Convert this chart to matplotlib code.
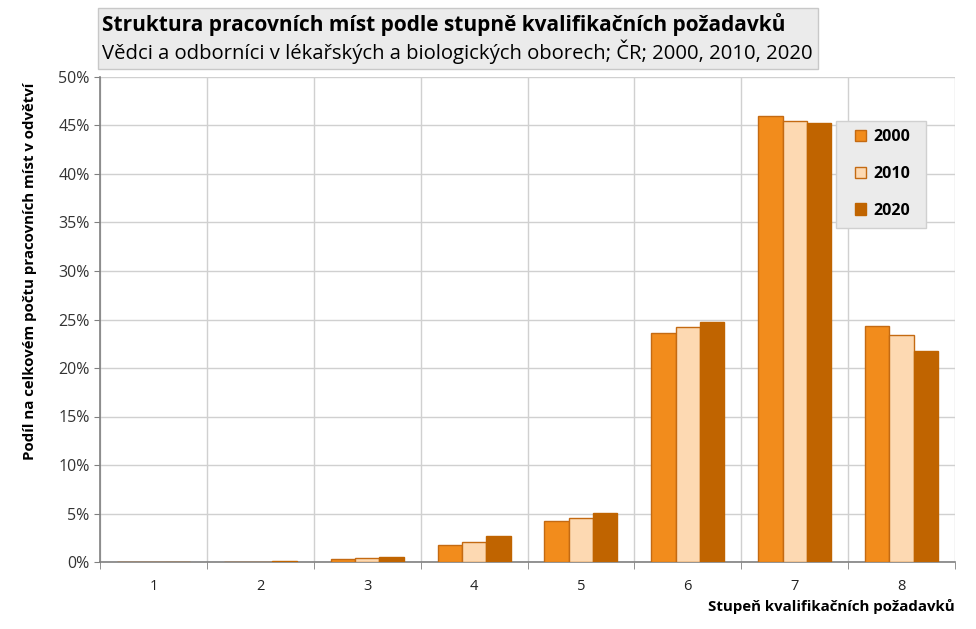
import matplotlib
matplotlib.use("Agg")
import matplotlib.pyplot as plt
from matplotlib.patches import Rectangle
from matplotlib.ticker import FixedLocator, PercentFormatter
import numpy as np

plt.rcParams["font.family"] = ["Open Sans", "DejaVu Sans"]

categories = ["1", "2", "3", "4", "5", "6", "7", "8"]
years = ["2000", "2010", "2020"]
share_2000 = [0.0, 0.05, 0.28, 1.72, 4.2, 23.6, 45.95, 24.3]
share_2010 = [0.0, 0.05, 0.40, 2.03, 4.5, 24.2, 45.5, 23.4]
share_2020 = [0.0, 0.15, 0.50, 2.65, 5.02, 24.7, 45.3, 21.8]

FILL = ["#F28C1C", "#FDD9B2", "#C06400"]
EDGE = ["#C46A12", "#C46A12", "#C06400"]


def fig_box(fig, x0, y0, x1, y1, **kw):
    # rectangle given in pixel coords measured from the top-left corner
    W, H = fig.bbox.width, fig.bbox.height
    r = Rectangle((x0 / W, 1 - y1 / H), (x1 - x0) / W, (y1 - y0) / H,
                  transform=fig.transFigure, **kw)
    fig.patches.append(r)
    return r


fig = plt.figure(figsize=(9.76, 6.29), dpi=100)
ax = fig.add_axes([100 / 976, 1 - 562 / 629, 855 / 976, 485 / 629])

x = np.arange(1, len(categories) + 1)
w = 0.228
for i, (vals, year) in enumerate(zip([share_2000, share_2010, share_2020], years)):
    ax.bar(x + (i - 1) * w, vals, width=w, color=FILL[i], edgecolor=EDGE[i],
           linewidth=1.0, label=year, zorder=3)

ax.set_xlim(0.5, len(categories) + 0.5)
ax.set_ylim(0, 50)
ax.set_yticks(np.arange(0, 51, 5))
ax.yaxis.set_major_formatter(PercentFormatter(decimals=0))
ax.set_xticks(x)
ax.set_xticklabels(categories)
ax.xaxis.set_minor_locator(FixedLocator(np.arange(0.5, len(categories) + 1, 1)))

ax.grid(axis="y", which="major", color="#D0D0D0", linewidth=1, zorder=0)
ax.grid(axis="x", which="minor", color="#D0D0D0", linewidth=1, zorder=0)
ax.tick_params(axis="x", which="major", length=0, pad=12, labelsize=10.5, labelcolor="#222222")
ax.tick_params(axis="x", which="minor", length=5, color="#808080", direction="out")
ax.tick_params(axis="y", length=4, color="#808080", labelsize=11.5, labelcolor="#333333")
for side in ["top", "right"]:
    ax.spines[side].set_visible(False)
for side in ["left", "bottom"]:
    ax.spines[side].set_color("#808080")
    ax.spines[side].set_linewidth(1.2)

fig.text(30 / 976, 1 - 271 / 629, "Podíl na celkovém počtu pracovních míst v odvětví",
         rotation=90, ha="center", va="center", fontsize=10.8, fontweight="bold")
fig.text(955 / 976, 1 - 607 / 629, "Stupeň kvalifikačních požadavků",
         ha="right", va="center", fontsize=10.8, fontweight="bold")

# title box
fig_box(fig, 98, 8, 818, 69, facecolor="#EBEBEB", edgecolor="#C8C8C8", linewidth=1)
fig.text(102 / 976, 1 - 25 / 629, "Struktura pracovních míst podle stupně kvalifikačních požadavků",
         ha="left", va="center", fontsize=15, fontweight="bold")
fig.text(102 / 976, 1 - 52 / 629, "Vědci a odborníci v lékařských a biologických oborech; ČR; 2000, 2010, 2020",
         ha="left", va="center", fontsize=14.6)

# legend box drawn separately so its size can match
fig_box(fig, 836, 121, 926, 228, facecolor="#EBEBEB", edgecolor="#D0D0D0",
        linewidth=1, zorder=4)
leg = fig.legend(*ax.get_legend_handles_labels(), loc="upper left",
                 bbox_to_anchor=(855 / 976, 1 - 129 / 629),
                 frameon=False, handlelength=0.7, handleheight=0.7,
                 labelspacing=1.3, borderpad=0, prop={"weight": "bold", "size": 11.5},
                 handletextpad=0.45, borderaxespad=0)
leg.set_zorder(5)

fig.savefig("out.png", dpi=100)
